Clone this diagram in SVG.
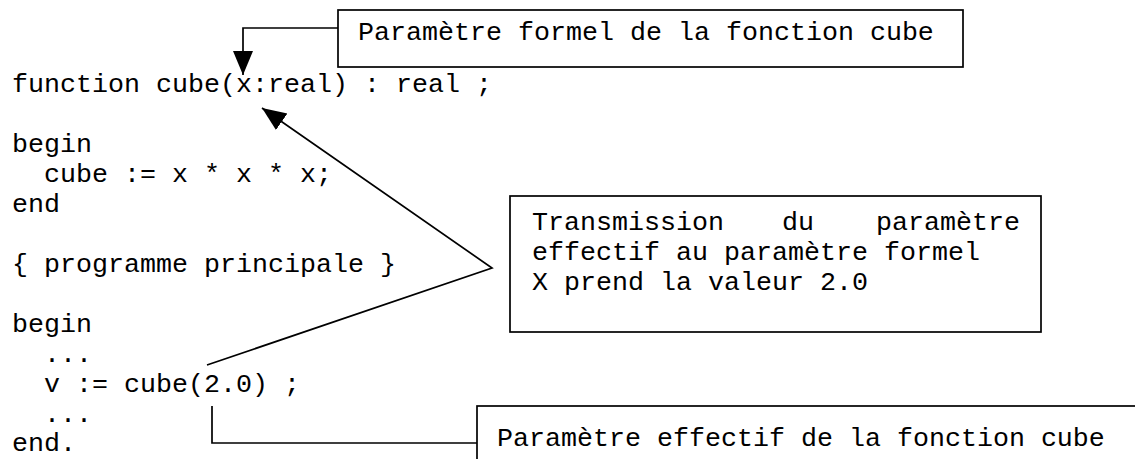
<svg xmlns="http://www.w3.org/2000/svg" width="1135" height="459" viewBox="0 0 1135 459">
  <style>
    .code { font-family: "Liberation Mono", "Courier New", monospace; font-size: 26.67px; fill: #000; white-space: pre; }
    .box { fill: #fff; stroke: #000; stroke-width: 1.7; }
    .wire { fill: none; stroke: #000; stroke-width: 1.7; }
  </style>
  <defs>
    <marker id="head" markerUnits="userSpaceOnUse" markerWidth="26" markerHeight="22" refX="24" refY="10" orient="auto">
      <path d="M0,0 L24,10 L0,20 Z" fill="#000"/>
    </marker>
  </defs>
  <rect width="1135" height="459" fill="#fff"/>

  <!-- Pascal source listing -->
  <g id="source" class="code">
    <text x="12" y="92" xml:space="preserve">function cube(x:real) : real ;</text>
    <text x="12" y="152">begin</text>
    <text x="12" y="182" xml:space="preserve">  cube := x * x * x;</text>
    <text x="12" y="212">end</text>
    <text x="12" y="272" xml:space="preserve">{ programme principale }</text>
    <text x="12" y="332">begin</text>
    <text x="12" y="362" xml:space="preserve">  ...</text>
    <text x="12" y="392" xml:space="preserve">  v := cube(2.0) ;</text>
    <text x="12" y="422" xml:space="preserve">  ...</text>
    <text x="12" y="451">end.</text>
  </g>

  <!-- callouts -->
  <g id="formel">
    <rect class="box" x="338" y="10" width="625" height="57"/>
    <text class="code" x="358" y="40">Paramètre formel de la fonction cube</text>
  </g>

  <g id="transmission">
    <rect class="box" x="510" y="196" width="531" height="136"/>
    <text class="code" y="230"><tspan x="532">Transmission</tspan><tspan x="782">du</tspan><tspan x="876">paramètre</tspan></text>
    <text class="code" x="532" y="260">effectif au paramètre formel</text>
    <text class="code" x="532" y="290">X prend la valeur 2.0</text>
  </g>

  <g id="effectif">
    <rect class="box" x="477" y="406" width="720" height="100"/>
    <text class="code" x="497" y="446">Paramètre effectif de la fonction cube</text>
  </g>

  <!-- connectors -->
  <g id="connectors">
    <path class="wire" d="M338,28 H243 V75" marker-end="url(#head)"/>
    <path class="wire" d="M207,365 L492,268 L262,108" marker-end="url(#head)"/>
    <path class="wire" d="M212,406 V443 H477"/>
  </g>
</svg>
